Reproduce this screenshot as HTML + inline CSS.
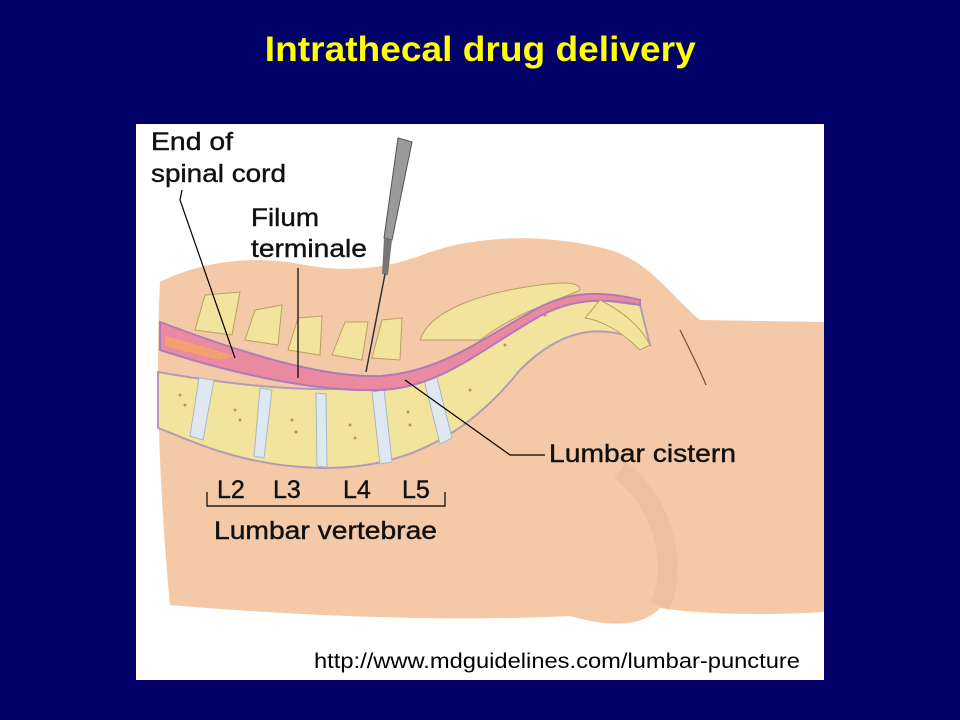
<!DOCTYPE html>
<html><head><meta charset="utf-8"><style>
html,body{margin:0;padding:0;background:#000066;width:960px;height:720px;overflow:hidden}
.t{position:absolute;top:30px;left:0;width:960px;text-align:center;color:#ffff00;font:bold 35px "Liberation Sans",sans-serif}
svg{position:absolute;left:136px;top:124px}
</style></head><body>
<div class="t"><span style="display:inline-block;transform:scaleX(1.06)">Intrathecal drug delivery</span></div>
<svg width="688" height="556" viewBox="136 124 688 556" font-family="Liberation Sans, sans-serif">
<rect x="136" y="124" width="688" height="556" fill="#fff"/>
<path d="M160,282 C200,262 250,255 300,264 C350,274 390,268 430,252 C490,232 560,236 610,250 C650,262 670,295 700,320 L824,322 L824,612 C760,616 700,614 660,608 C640,630 600,625 570,616 C450,622 300,616 170,605 C160,500 155,380 160,282 Z" fill="#f4c9a7"/>
<path d="M620,470 C660,500 680,560 660,606" fill="none" stroke="#e8b492" stroke-width="20" opacity=".4"/>
<path d="M680,330 C690,350 700,370 706,385" fill="none" stroke="#7a4a3a" stroke-width="1.2"/>
<g fill="#f2e49c" stroke="#b8a060" stroke-width="1">
<path d="M195,330 L205,295 L240,292 L232,335 Z"/>
<path d="M245,340 L255,310 L282,305 L278,345 Z"/>
<path d="M288,350 L298,318 L322,316 L320,355 Z"/>
<path d="M332,355 L345,322 L368,322 L362,360 Z"/>
<path d="M372,358 L382,320 L402,318 L400,360 Z"/>
<path d="M420,340 C430,310 480,295 520,288 C555,282 580,280 580,290 C560,300 520,310 480,340 Z"/>
</g>
<path d="M158,372 C260,390 380,400 440,370 C500,340 530,300 600,300 L640,305 L650,345 C600,320 560,330 520,370 C480,420 420,470 320,468 C240,466 190,440 158,428 Z" fill="#f2e49c" stroke="#b59ab8" stroke-width="2"/>
<g fill="#dfe8f0" stroke="#a8b8c8">
<path d="M199,378 L214,380 L203,440 L190,436 Z"/>
<path d="M260,388 L272,390 L264,458 L254,456 Z"/>
<path d="M316,393 L326,394 L327,467 L317,466 Z"/>
<path d="M372,392 L384,390 L392,462 L380,464 Z"/>
<path d="M424,380 L436,374 L452,438 L440,444 Z"/>
</g>
<g fill="#a46e50" opacity=".7">
<circle cx="180" cy="395" r="1.5"/><circle cx="185" cy="405" r="1.5"/><circle cx="235" cy="410" r="1.5"/><circle cx="240" cy="420" r="1.5"/><circle cx="292" cy="420" r="1.5"/><circle cx="296" cy="432" r="1.5"/><circle cx="350" cy="425" r="1.5"/><circle cx="355" cy="438" r="1.5"/><circle cx="408" cy="412" r="1.5"/><circle cx="410" cy="425" r="1.5"/><circle cx="470" cy="390" r="1.5"/><circle cx="505" cy="345" r="1.5"/><circle cx="545" cy="315" r="1.5"/>
</g>
<path d="M160,322 C240,352 320,378 380,376 C440,372 480,340 540,307 C570,292 600,290 640,300 L640,305 C600,297 570,300 540,316 C480,350 440,388 380,390 C320,392 240,376 160,350 Z" fill="#e98aa0" stroke="#b07ab8" stroke-width="2"/>
<path d="M165,336 C200,345 220,352 235,356 L220,360 C200,355 180,350 165,346 Z" fill="#f5a070"/>
<path d="M600,300 C620,310 640,325 650,345 L640,350 C620,330 600,320 585,318 Z" fill="#f2e49c" stroke="#b8a060"/>
<path d="M398,138 L412,142 L392,240 L384,238 Z" fill="#9a9a9a" stroke="#555"/>
<path d="M384,238 L392,240 L388,275 L382,274 Z" fill="#777"/>
<line x1="385" y1="274" x2="366" y2="372" stroke="#333" stroke-width="1.5"/>
<g stroke="#000" stroke-width="1.2" fill="none">
<path d="M182,190 L180,200 L235,358"/>
<path d="M298,268 L298,378"/>
<path d="M405,380 L510,455 L545,455"/>
<path d="M207,492 L207,506 L445,506 L445,492"/>
</g>
<g font-size="25" fill="#111" stroke="#111" stroke-width="0.4">
<text x="151" y="150" textLength="82" lengthAdjust="spacingAndGlyphs">End of</text>
<text x="151" y="182" textLength="135" lengthAdjust="spacingAndGlyphs">spinal cord</text>
<text x="251" y="226" textLength="68" lengthAdjust="spacingAndGlyphs">Filum</text>
<text x="251" y="257" textLength="116" lengthAdjust="spacingAndGlyphs">terminale</text>
<text x="549" y="462" textLength="187" lengthAdjust="spacingAndGlyphs">Lumbar cistern</text>
<text x="217" y="498">L2</text><text x="273" y="498">L3</text><text x="343" y="498">L4</text><text x="402" y="498">L5</text>
<text x="214" y="539" textLength="223" lengthAdjust="spacingAndGlyphs">Lumbar vertebrae</text>
</g>
<text x="314" y="668" font-size="21" fill="#000" textLength="486" lengthAdjust="spacingAndGlyphs">http://www.mdguidelines.com/lumbar-puncture</text>
</svg>
</body></html>
